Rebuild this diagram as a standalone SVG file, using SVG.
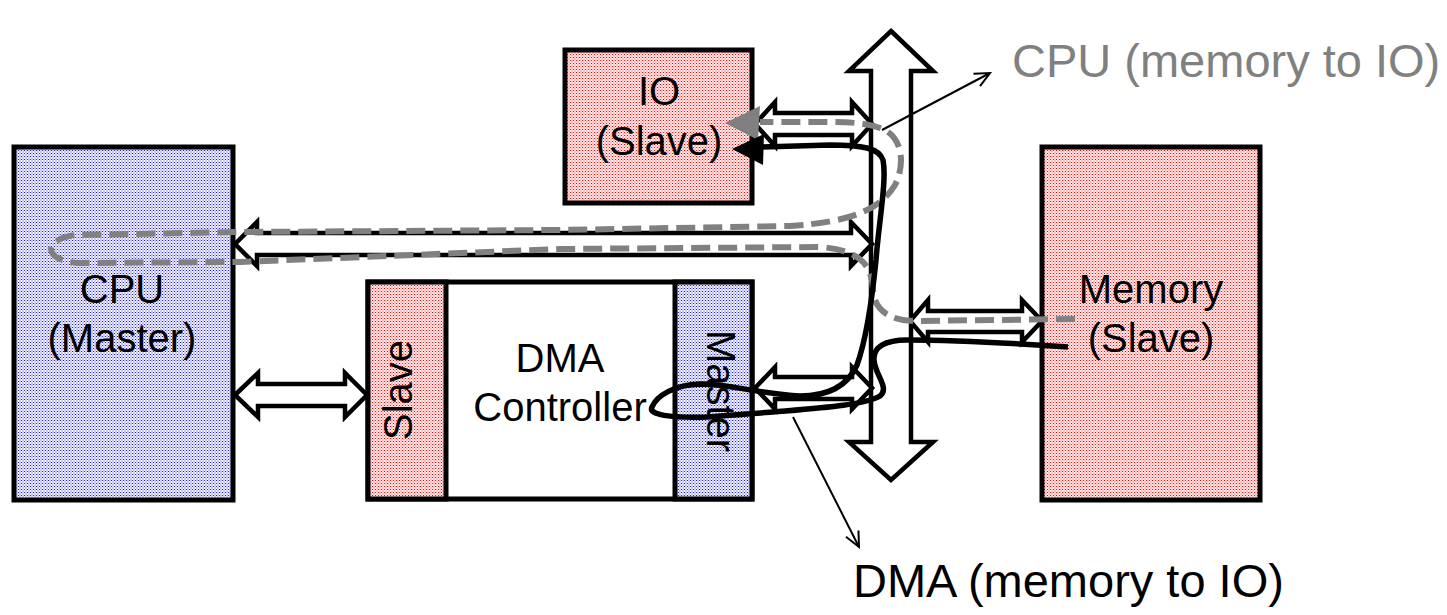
<svg xmlns="http://www.w3.org/2000/svg" width="1447" height="615" viewBox="0 0 1447 615">
<style>
.box{stroke:#000;stroke-width:5;stroke-linejoin:miter}
.dbl{fill:#fff;stroke:#000;stroke-width:4.5;stroke-linejoin:miter}
.lbl{font-family:"Liberation Sans",Arial,sans-serif;font-size:40px;fill:#000;text-anchor:middle}
.ann{font-family:"Liberation Sans",Arial,sans-serif;font-size:47px}
.gray{fill:none;stroke:#808080;stroke-width:6;stroke-dasharray:19 8}
.blk{fill:none;stroke:#000;stroke-width:5.5}
.thin{fill:none;stroke:#000;stroke-width:2}
</style>
<defs>
<pattern id="pr" width="3" height="3" patternUnits="userSpaceOnUse">
<rect width="3" height="3" fill="#fff"/>
<rect width="1" height="1" fill="#f00"/>
<rect x="1.5" y="1.5" width="1" height="1" fill="#f00"/>
<rect x="1.5" y="0" width="1" height="1" fill="#faa"/>
</pattern>
<pattern id="pb" width="3" height="3" patternUnits="userSpaceOnUse">
<rect width="3" height="3" fill="#fff"/>
<rect width="1" height="1" fill="#22c"/>
<rect x="1.5" y="1.5" width="1" height="1" fill="#22c"/>
<rect x="1.5" y="0" width="1" height="1" fill="#aae"/>
</pattern>
<marker id="open" viewBox="-17 -10 20 20" markerWidth="20" markerHeight="20" refX="0" refY="0" orient="auto" markerUnits="userSpaceOnUse">
<path d="M-15,-7 L0,0 L-15,7" fill="none" stroke="#000" stroke-width="2"/>
</marker>
</defs>
<rect width="1447" height="615" fill="#fff"/>

<g id="cpu">
<rect class="box" x="14" y="147" width="219" height="353" fill="url(#pb)"/>
<text class="lbl" x="122" y="303">CPU</text>
<text class="lbl" x="122" y="352">(Master)</text>
</g>
<g id="io">
<rect class="box" x="565" y="50" width="187" height="153" fill="url(#pr)"/>
<text class="lbl" x="659" y="105">IO</text>
<text class="lbl" x="659" y="155">(Slave)</text>
</g>
<g id="memory">
<rect class="box" x="1042" y="147" width="218" height="353" fill="url(#pr)"/>
<text class="lbl" x="1151" y="303">Memory</text>
<text class="lbl" x="1151" y="352">(Slave)</text>
</g>
<g id="dma">
<rect class="box" x="368" y="282" width="384" height="217" fill="#fff"/>
<rect class="box" x="368" y="282" width="78" height="217" fill="url(#pr)"/>
<rect class="box" x="675" y="282" width="77" height="217" fill="url(#pb)"/>
<text class="lbl" x="560" y="372">DMA</text>
<text class="lbl" x="560" y="421">Controller</text>
<text class="lbl" transform="translate(412,390) rotate(-90)">Slave</text>
<text class="lbl" transform="translate(707,391) rotate(90)">Master</text>
</g>
<g id="bus">
<path class="dbl" d="M891,31 L933,71 L911,71 L911,442 L933,442 L891,480 L849,442 L871,442 L871,71 L849,71 Z"/>
</g>

<g id="connectors">
<path class="dbl" d="M755,124 L775,102 L775,113 L852,113 L852,102 L872,124 L852,146 L852,135 L775,135 L775,146 Z"/>
<path class="dbl" d="M235,244 L257,222 L257,233 L851,233 L851,222 L872,244 L851,266 L851,255 L257,255 L257,266 Z"/>
<path class="dbl" d="M235,395 L258,373 L258,384 L345,384 L345,373 L367,395 L345,417 L345,406 L258,406 L258,417 Z"/>
<path class="dbl" d="M755,388 L775,367 L775,377 L852,377 L852,367 L872,388 L852,409 L852,399 L775,399 L775,409 Z"/>
<path class="dbl" d="M910,321 L928,300 L928,311 L1022,311 L1022,300 L1042,321 L1022,342 L1022,332 L928,332 L928,342 Z"/>

<path class="gray" d="M1075,319 L915,321 C890,321 874,310 873,290 C872,265 860,250 820,247 L560,249 L240,262 L80,263 C45,262 40,240 75,235 L240,232 L560,230 L790,226 C850,222 880,210 895,185 C905,165 903,140 885,130 C870,123 850,122 830,122 L760,122"/>
<polygon points="725,123 760,106 758,140" fill="#808080"/>

<path class="blk" d="M1068,347 C1010,343 960,340 907,340 C885,340 873,347 874,360 C875,375 890,388 880,396 C865,405 820,408 773,412 L707,417 C670,418 648,415 652,407 C657,395 675,385 700,384 C730,384 760,394 800,396 C830,396 848,385 857,365 C866,340 872,300 876,260 C879,220 887,180 883,160 C879,148 862,145 830,145 L762,147"/>
<polygon points="732,149 764,134 763,165" fill="#000"/>

<line class="thin" x1="882" y1="130" x2="990" y2="73" marker-end="url(#open)"/>
<line class="thin" x1="793" y1="417" x2="859" y2="547" marker-end="url(#open)"/>
</g>

<text class="ann" x="1012" y="77" fill="#808080">CPU (memory to IO)</text>
<text class="ann" x="853" y="597" fill="#000">DMA (memory to IO)</text>
</svg>
